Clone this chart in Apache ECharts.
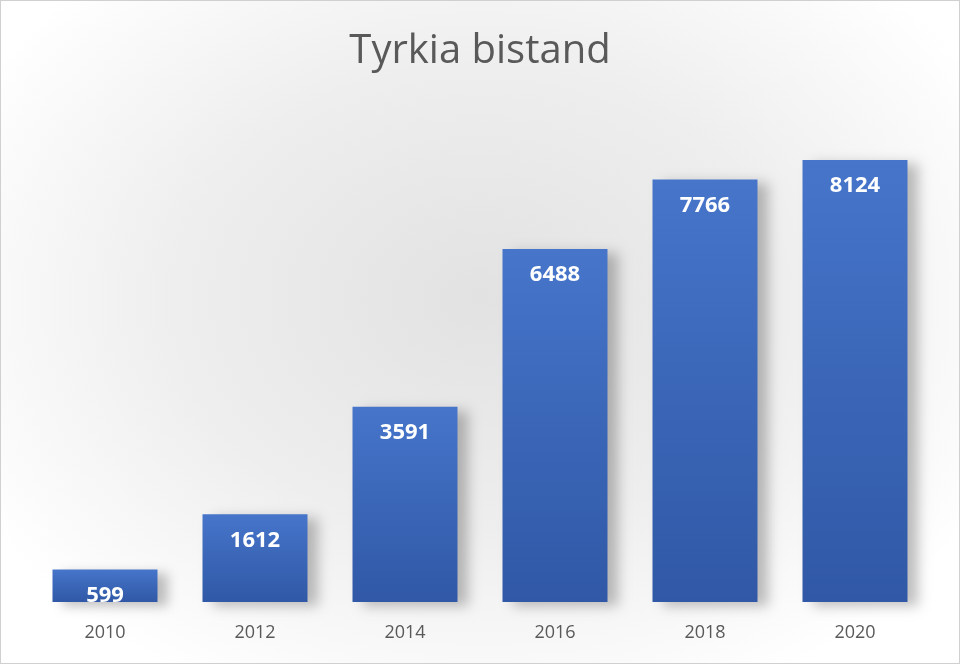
<!DOCTYPE html>
<html><head><meta charset="utf-8">
<script src="https://cdn.jsdelivr.net/npm/echarts@6/dist/echarts.min.js"></script>
<style>html,body{margin:0;padding:0}#c{width:960px;height:664px;box-sizing:border-box;border:1px solid #d0d0d0;background:radial-gradient(ellipse at 50% 45%,#e2e2e2 0%,#eeeeee 45%,#ffffff 85%)}</style>
</head><body><div id="c"></div>
<script>
const categories=['2010','2012','2014','2016','2018','2020'];
const values=[599,1612,3591,6488,7766,8124];
const chart=echarts.init(document.getElementById('c'));
chart.setOption({
  title:{text:'Tyrkia bistand',left:'center',top:26,textStyle:{fontFamily:'Open Sans',fontSize:40,fontWeight:'normal',color:'#595959'}},
  grid:{left:29,right:29,top:159,bottom:61},
  xAxis:{type:'category',data:categories,axisLine:{show:false},axisTick:{show:false},
    axisLabel:{fontFamily:'Open Sans',fontSize:18,color:'#595959',margin:22}},
  yAxis:{type:'value',min:0,max:8124,show:false,splitLine:{show:false}},
  series:[{type:'bar',data:values,barWidth:'70%',
    itemStyle:{color:new echarts.graphic.LinearGradient(0,0,0,1,[{offset:0,color:'#4675ca'},{offset:1,color:'#3058a6'}]),
      shadowColor:'rgba(0,0,0,0.25)',shadowBlur:12,shadowOffsetX:10,shadowOffsetY:4},
    label:{show:true,position:'insideTop',offset:[0,10],color:'#fff',fontFamily:'Open Sans',fontWeight:'bold',fontSize:22}}]
});
</script></body></html>
